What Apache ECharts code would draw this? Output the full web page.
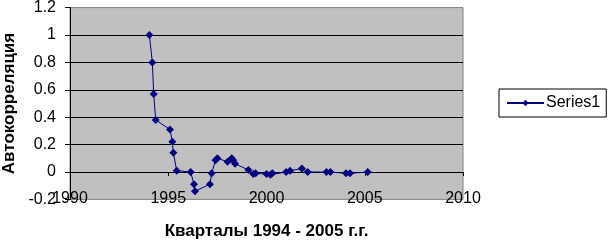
<!DOCTYPE html>
<html><head><meta charset="utf-8">
<script src="https://cdn.jsdelivr.net/npm/echarts@6/dist/echarts.min.js"></script>
<style>html,body{margin:0;padding:0;background:#fff}#c{width:610px;height:240px}</style>
</head><body><div id="c"></div>
<script>
const seriesName = 'Series1';
const years = [1994.04,1994.19,1994.26,1994.36,1995.09,1995.21,1995.26,1995.43,1996.14,1996.31,1996.36,1997.12,1997.21,1997.40,1997.50,1998.02,1998.23,1998.30,1998.40,1999.08,1999.33,1999.45,2000.00,2000.20,2000.30,2001.00,2001.20,2001.80,2002.10,2003.05,2003.25,2004.05,2004.25,2005.15];
const values = [1.00,0.80,0.57,0.38,0.31,0.22,0.14,0.01,0.00,-0.09,-0.14,-0.09,-0.01,0.085,0.10,0.075,0.10,0.085,0.06,0.015,-0.015,-0.01,-0.015,-0.02,-0.01,0.00,0.01,0.025,0.00,0.00,0.00,-0.01,-0.01,0.00];
const xTicks = [1990,1995,2000,2005,2010];
const yTicks = [-0.2,0,0.2,0.4,0.6,0.8,1,1.2];
const xTitle = 'Кварталы 1994 - 2005 г.г.';
const yTitle = 'Автокорреляция';

const font = 'Liberation Sans, Arial, sans-serif';
const chart = echarts.init(document.getElementById('c'), null, {renderer:'canvas'});
chart.setOption({
  animation:false,
  backgroundColor:'#fff',
  grid:{left:70,right:147,top:7.6,bottom:40.6,containLabel:false,outerBoundsMode:'none',show:true,backgroundColor:'#c0c0c0',borderColor:'#808080',borderWidth:1},
  legend:{
    left:499,top:89,orient:'vertical',
    borderColor:'#000',borderWidth:1,padding:[6,6,6,7],
    itemWidth:37,itemHeight:8,itemGap:0,
    textStyle:{fontFamily:font,fontSize:16,color:'#000',padding:[0,0,0,-3]},
    data:[seriesName]
  },
  xAxis:[{
    type:'value',min:xTicks[0],max:xTicks[xTicks.length-1],interval:5,position:'bottom',
    axisLine:{show:false},axisTick:{show:false},splitLine:{show:false},
    axisLabel:{fontFamily:font,fontSize:16,color:'#000',margin:-1,verticalAlign:'middle',formatter:v=>String(v)},
    name:xTitle,nameLocation:'middle',nameGap:23,
    nameTextStyle:{fontFamily:font,fontSize:17,fontWeight:'bold',color:'#000'}
  },{
    type:'value',min:xTicks[0],max:xTicks[xTicks.length-1],interval:5,position:'bottom',
    axisLine:{show:true,onZero:true,onZeroAxisIndex:0,lineStyle:{color:'#000',width:1}},
    axisTick:{show:true,length:4,inside:false,lineStyle:{color:'#000'}},
    axisLabel:{show:false},splitLine:{show:false}
  }],
  yAxis:{
    type:'value',min:-0.2,max:1.2,interval:0.2,
    axisLine:{show:true,lineStyle:{color:'#000',width:1}},
    axisTick:{show:true,length:5,lineStyle:{color:'#000'}},
    splitLine:{show:true,showMinLine:false,showMaxLine:false,lineStyle:{color:'#000',width:1}},
    axisLabel:{fontFamily:font,fontSize:16,color:'#000',margin:14,formatter:v=>String(Math.round(v*10)/10)},
    name:yTitle,nameLocation:'middle',nameGap:51,nameRotate:90,
    nameTextStyle:{fontFamily:font,fontSize:17,fontWeight:'bold',color:'#000'}
  },
  series:[{
    name:seriesName,type:'line',xAxisIndex:0,
    data:years.map((y,i)=>[y,values[i]]),
    symbol:'diamond',symbolSize:8,
    lineStyle:{color:'#000080',width:1},
    itemStyle:{color:'#000080'}
  }]
});
</script></body></html>
